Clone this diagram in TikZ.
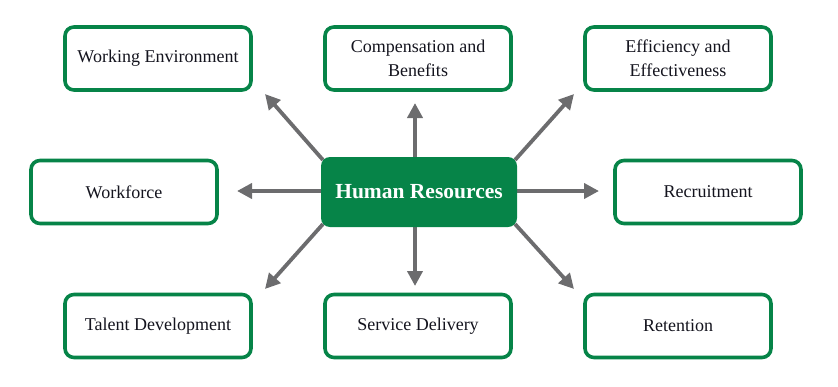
\documentclass[tikz,border=0pt]{standalone}
\usepackage{fontspec}
\setmainfont{Liberation Serif}
\usetikzlibrary{arrows.meta}
\definecolor{hrgreen}{RGB}{6,132,72}
\definecolor{arrgray}{RGB}{108,108,110}
\definecolor{txt}{RGB}{20,20,30}
\begin{document}
\begin{tikzpicture}[x=1pt,y=-1pt,
  leaf/.style={draw=hrgreen, line width=3.6pt, rounded corners=9pt, fill=white,
    minimum width=186pt, minimum height=63pt, inner sep=0pt, align=center,
    text=txt, font=\fontsize{18}{24}\selectfont},
  hub/.style={fill=hrgreen, rounded corners=9pt, minimum width=196pt, minimum height=70pt,
    inner sep=0pt, text=white, font=\fontsize{21.5}{24}\selectfont\bfseries},
  conn/.style={draw=arrgray, line width=3.8pt, -{Triangle[length=15pt,width=15pt]}}]
\useasboundingbox (0,0) rectangle (838,386);
\node[leaf] (we) at (158,58.5) {Working Environment};
\node[leaf] (cb) at (418,58.5) {Compensation and\\Benefits};
\node[leaf] (ee) at (678,58.5) {Efficiency and\\Effectiveness};
\node[leaf] (wf) at (124,192) {Workforce};
\node[leaf] (rc) at (708,192) {Recruitment};
\node[leaf] (td) at (158,326) {Talent Development};
\node[leaf] (sd) at (418,326) {Service Delivery};
\node[leaf] (rt) at (678,326) {Retention};
\coordinate (hUL) at (323,160);
\coordinate (hU) at (415,157);
\coordinate (hUR) at (515,160);
\coordinate (hL) at (321,191);
\coordinate (hR) at (517,191);
\coordinate (hDL) at (323,224);
\coordinate (hD) at (415,227);
\coordinate (hDR) at (515,224);
\coordinate (tUL) at (265,94);
\coordinate (tU) at (415,103);
\coordinate (tUR) at (574,94);
\coordinate (tL) at (237,191);
\coordinate (tR) at (599,191);
\coordinate (tDL) at (265,289);
\coordinate (tD) at (415,286);
\coordinate (tDR) at (574,289);
\draw[conn] (hUL) -- (tUL);
\draw[conn] (hU) -- (tU);
\draw[conn] (hUR) -- (tUR);
\draw[conn] (hL) -- (tL);
\draw[conn] (hR) -- (tR);
\draw[conn] (hDL) -- (tDL);
\draw[conn] (hD) -- (tD);
\draw[conn] (hDR) -- (tDR);
\node[hub] (hr) at (419,192) {Human Resources};
\end{tikzpicture}
\end{document}
